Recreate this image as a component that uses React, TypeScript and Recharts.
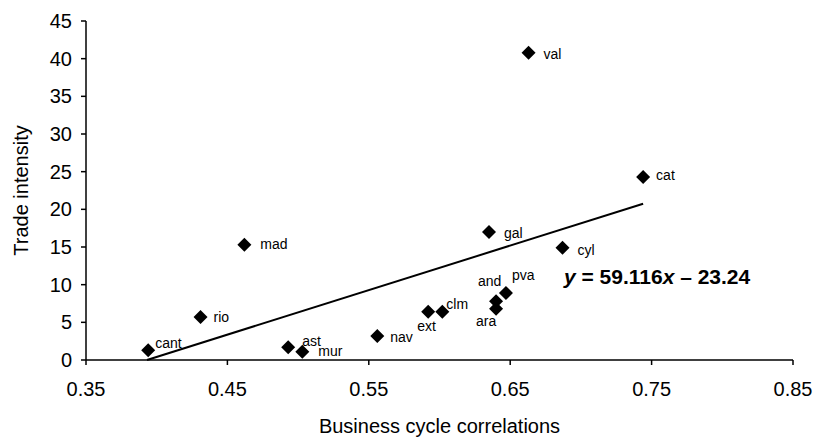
import React from "react";
import {
  ScatterChart,
  Scatter,
  XAxis,
  YAxis,
  ReferenceLine,
  ReferenceDot,
  Label,
} from "recharts";

const regions = ["cant", "rio", "mad", "ast", "mur", "nav", "ext", "clm", "ara", "and", "pva", "gal", "cyl", "val", "cat"];
const correlations = [0.394, 0.431, 0.462, 0.493, 0.503, 0.556, 0.592, 0.602, 0.64, 0.64, 0.647, 0.635, 0.687, 0.663, 0.744];
const tradeIntensity = [1.3, 5.7, 15.3, 1.7, 1.1, 3.2, 6.4, 6.4, 6.8, 7.8, 8.9, 17.0, 14.9, 40.8, 24.3];

const xTicks = [0.35, 0.45, 0.55, 0.65, 0.75, 0.85];
const yTicks = [0, 5, 10, 15, 20, 25, 30, 35, 40, 45];

const slope = 59.116;
const intercept = -23.24;

// label placement (pixels relative to marker)
const labelOffsets: Record<string, [number, number]> = {
  cant: [7, -7],
  rio: [13, 0],
  mad: [16, 0],
  ast: [14, -6],
  mur: [16, 0],
  nav: [13, 2],
  ext: [-11, 15],
  clm: [4, -7],
  ara: [-20, 13],
  and: [-18, -20],
  pva: [6, -17],
  gal: [15, 2],
  cyl: [15, 3],
  val: [15, 2],
  cat: [13, -1],
};

const data = regions.map((name, i) => ({ name, x: correlations[i], y: tradeIntensity[i] }));

const FONT = '"Liberation Sans", Arial, Helvetica, sans-serif';

const trendStart = -intercept / slope;
const trendEndX = Math.max(...correlations);
const trendEndY = slope * trendEndX + intercept;

const DiamondWithLabel = (props: any) => {
  const { cx, cy, payload } = props;
  if (cx == null || cy == null) return null;
  const h = 7;
  const off = labelOffsets[payload.name] || [12, 0];
  return (
    <g>
      <polygon
        points={`${cx},${cy - h} ${cx + h},${cy} ${cx},${cy + h} ${cx - h},${cy}`}
        fill="#000"
      />
      <text
        x={cx + off[0]}
        y={cy + off[1] + 4.5}
        fontSize={14}
        fontFamily={FONT}
        fill="#000"
      >
        {payload.name}
      </text>
    </g>
  );
};

const EquationShape = (props: any) => {
  const { cx, cy } = props;
  if (cx == null || cy == null) return null;
  return (
    <text x={cx} y={cy} fontSize={21} fontWeight="bold" fontFamily={FONT} fill="#000">
      <tspan fontStyle="italic">y</tspan>
      {" = 59.116"}
      <tspan fontStyle="italic">x</tspan>
      {" \u2013 23.24"}
    </text>
  );
};

const YTitle = (props: any) => {
  const vb = props.viewBox || {};
  const x = (vb.x || 0) + 21;
  const y = (vb.y || 0) + (vb.height || 0) / 2;
  return (
    <text
      x={x}
      y={y}
      transform={`rotate(-90, ${x}, ${y})`}
      textAnchor="middle"
      dominantBaseline="central"
      fontSize={20}
      fontFamily={FONT}
      fill="#000"
    >
      Trade intensity
    </text>
  );
};

export default function App() {
  return (
    <div style={{ position: "absolute", left: 0, top: 0, background: "#fff" }}>
      <ScatterChart
        width={817}
        height={438}
        margin={{ top: 21, right: 24, left: 0, bottom: 0 }}
      >
        <XAxis
          type="number"
          dataKey="x"
          domain={[0.35, 0.85]}
          ticks={xTicks}
          tickFormatter={(v: number) => v.toFixed(2)}
          height={78}
          tickSize={5}
          tickMargin={17}
          stroke="#000"
          strokeWidth={1.5}
          tick={{ fill: "#000", fontSize: 20, fontFamily: FONT }}
          allowDataOverflow
        >
          <Label
            value="Business cycle correlations"
            position="insideBottom"
            offset={5}
            style={{ fontSize: 20, fontFamily: FONT, fill: "#000" }}
          />
        </XAxis>
        <YAxis
          type="number"
          dataKey="y"
          domain={[0, 45]}
          ticks={yTicks}
          width={86}
          tickSize={5}
          tickMargin={9}
          stroke="#000"
          strokeWidth={1.5}
          tick={{ fill: "#000", fontSize: 20, fontFamily: FONT }}
          allowDataOverflow
        >
          <Label content={<YTitle />} position="insideLeft" />
        </YAxis>
        <ReferenceLine
          segment={[
            { x: trendStart, y: 0 },
            { x: trendEndX, y: trendEndY },
          ]}
          stroke="#000"
          strokeWidth={2}
          ifOverflow="visible"
        />
        <ReferenceDot x={0.688} y={10.1} r={0} shape={<EquationShape />} ifOverflow="visible" />
        <Scatter
          data={data}
          shape={<DiamondWithLabel />}
          isAnimationActive={false}
        />
      </ScatterChart>
    </div>
  );
}
